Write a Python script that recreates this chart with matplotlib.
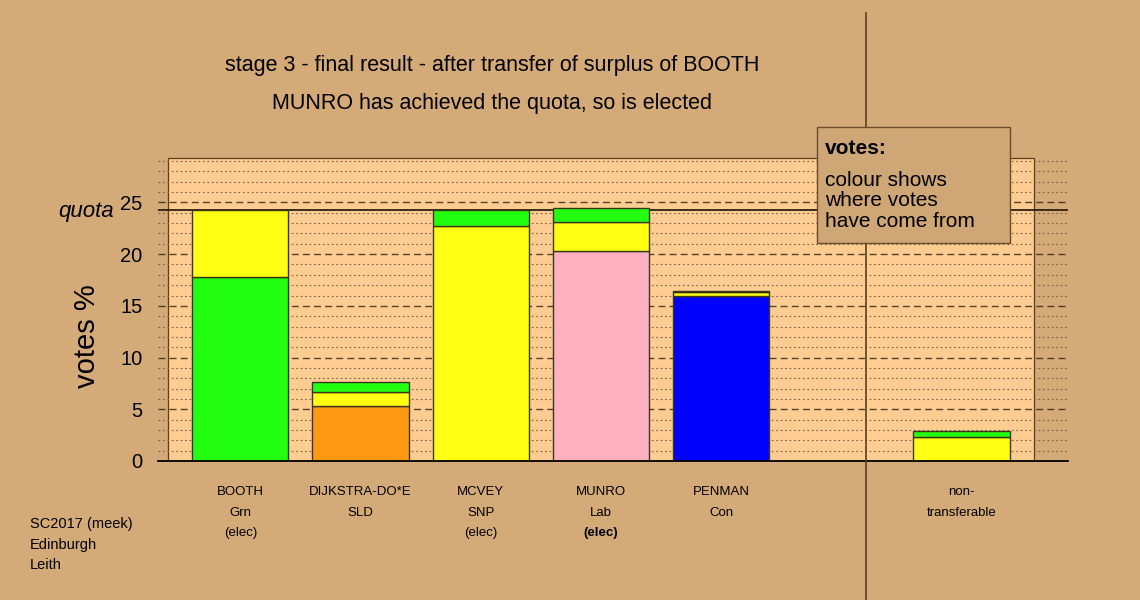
"""Stage 3 of an STV count: stacked bars of votes % coloured by where the votes came from."""

import matplotlib

matplotlib.use("Agg")
import matplotlib.pyplot as plt  # noqa: E402
import matplotlib.transforms as mtransforms  # noqa: E402
from matplotlib.lines import Line2D  # noqa: E402
from matplotlib.patches import Rectangle  # noqa: E402

plt.rcParams["font.family"] = ["Liberation Sans", "DejaVu Sans"]

# --- data --------------------------------------------------------------------
names = ["BOOTH", "DIJKSTRA-DO*E", "MCVEY", "MUNRO", "PENMAN", "non-"]
parties = ["Grn", "SLD", "SNP", "Lab", "Con", "transferable"]
status = ["(elec)", "", "(elec)", "(elec)", "", ""]
slots = [0, 1, 2, 3, 4, 6]

own_votes = [17.75, 5.28, 22.70, 20.33, 15.95, 0.0]
from_mcvey = [6.55, 1.35, 0.0, 2.77, 0.35, 2.35]
from_booth = [0.0, 1.00, 1.60, 1.38, 0.16, 0.51]
quota = 24.3

GREEN = "#22FF10"
YELLOW = "#FFFF14"
ORANGE = "#FF9912"
PINK = "#FFB0C1"
BLUE = "#0000FF"
own_colours = [GREEN, ORANGE, YELLOW, PINK, BLUE, "none"]

BG = "#D4AA78"
PANEL = "#FFCC92"
EDGE = "#3a3418"
BROWN = "#5c3d1e"

fig = plt.figure(figsize=(11.4, 6), dpi=100, facecolor=BG)
W, H = 1140, 600
ax = fig.add_axes([158 / W, 139 / H, 910 / W, 304 / H])
ax.set_facecolor("none")
ax.set_xlim(-0.685, 6.886)
ax.set_ylim(0, 29.39)

# plot panel
ax.add_patch(Rectangle((-0.6, 0), 7.2, 29.3, facecolor=PANEL,
                       edgecolor=BROWN, lw=0.9, zorder=0))

# grid: dashed every 5, dotted every 1
for v in range(1, 30):
    if v % 5 == 0:
        ax.axhline(v, color="#3a2a18", lw=1.0, ls=(0, (5, 3)), alpha=0.85, zorder=1)
    else:
        ax.axhline(v, color="#7a6048", lw=0.8, ls=(0, (1.5, 2.5)), zorder=1)
ax.axhline(quota, color="#2a2010", lw=1.3, zorder=1)

# stacked bars
bottom = [0.0] * len(slots)
for values, colours in [(own_votes, own_colours),
                        (from_mcvey, [YELLOW] * len(slots)),
                        (from_booth, [GREEN] * len(slots))]:
    for i, (x, v) in enumerate(zip(slots, values)):
        if v > 0:
            ax.bar(x, v, bottom=bottom[i], width=0.8, color=colours[i],
                   edgecolor=EDGE, lw=1.0, zorder=3)
            bottom[i] += v

for s in ["left", "right", "top"]:
    ax.spines[s].set_visible(False)
ax.spines["bottom"].set_color("black")
ax.spines["bottom"].set_linewidth(1.3)
ax.spines["bottom"].set_zorder(4)
ax.set_xticks([])
ax.set_yticks(range(0, 30, 5))
ax.tick_params(axis="y", length=0, pad=11, labelsize=14.5)

# axis texts
fig_y = mtransforms.blended_transform_factory(fig.transFigure, ax.transData)
ax.text(114 / W, quota - 0.15, "quota", transform=fig_y, ha="right", va="center",
        fontsize=16, style="italic")
fig.text(87 / W, 1 - 336 / H, "votes %", rotation=90, ha="center",
         va="center", fontsize=21)

fig.text(492 / W, 1 - 66 / H, "stage 3 - final result - after transfer of surplus of BOOTH",
         ha="center", va="center", fontsize=15.5)
fig.text(492 / W, 1 - 104 / H, "MUNRO has achieved the quota, so is elected",
         ha="center", va="center", fontsize=15.5)

# candidate labels under the bars
x_fig = mtransforms.blended_transform_factory(ax.transData, fig.transFigure)
for x, n, p, s in zip(slots, names, parties, status):
    ax.text(x, 1 - 492 / H, n, transform=x_fig, ha="center", va="center", fontsize=9.5)
    ax.text(x, 1 - 513 / H, p, transform=x_fig, ha="center", va="center", fontsize=9.5)
    if s:
        ax.text(x, 1 - 533 / H, s, transform=x_fig, ha="center", va="center",
                fontsize=9.5, fontweight="bold" if n == "MUNRO" else "normal")

for k, line in enumerate(["SC2017 (meek)", "Edinburgh", "Leith"]):
    fig.text(30 / W, 1 - (524 + 20.5 * k) / H, line, ha="left", va="center",
             fontsize=10.5)

# separator between candidates and non-transferable
fig.add_artist(Line2D([865.5 / W, 865.5 / W], [0, 1 - 13 / H], color=BROWN,
                      lw=1.2, zorder=5))

# key box
fig.add_artist(Rectangle((817 / W, 1 - 243 / H), 193 / W, 116 / H,
                         transform=fig.transFigure, facecolor="#CFA676",
                         edgecolor="#6b4c2a", lw=1.0, zorder=6))
fig.text(825 / W, 1 - 148 / H, "votes:", ha="left", va="center", fontsize=15,
         fontweight="bold", zorder=7)
for k, line in enumerate(["colour shows", "where votes", "have come from"]):
    fig.text(825 / W, 1 - (180 + 20.5 * k) / H, line, ha="left", va="center",
             fontsize=15, zorder=7)

fig.savefig("out.png", dpi=100, facecolor=BG)
